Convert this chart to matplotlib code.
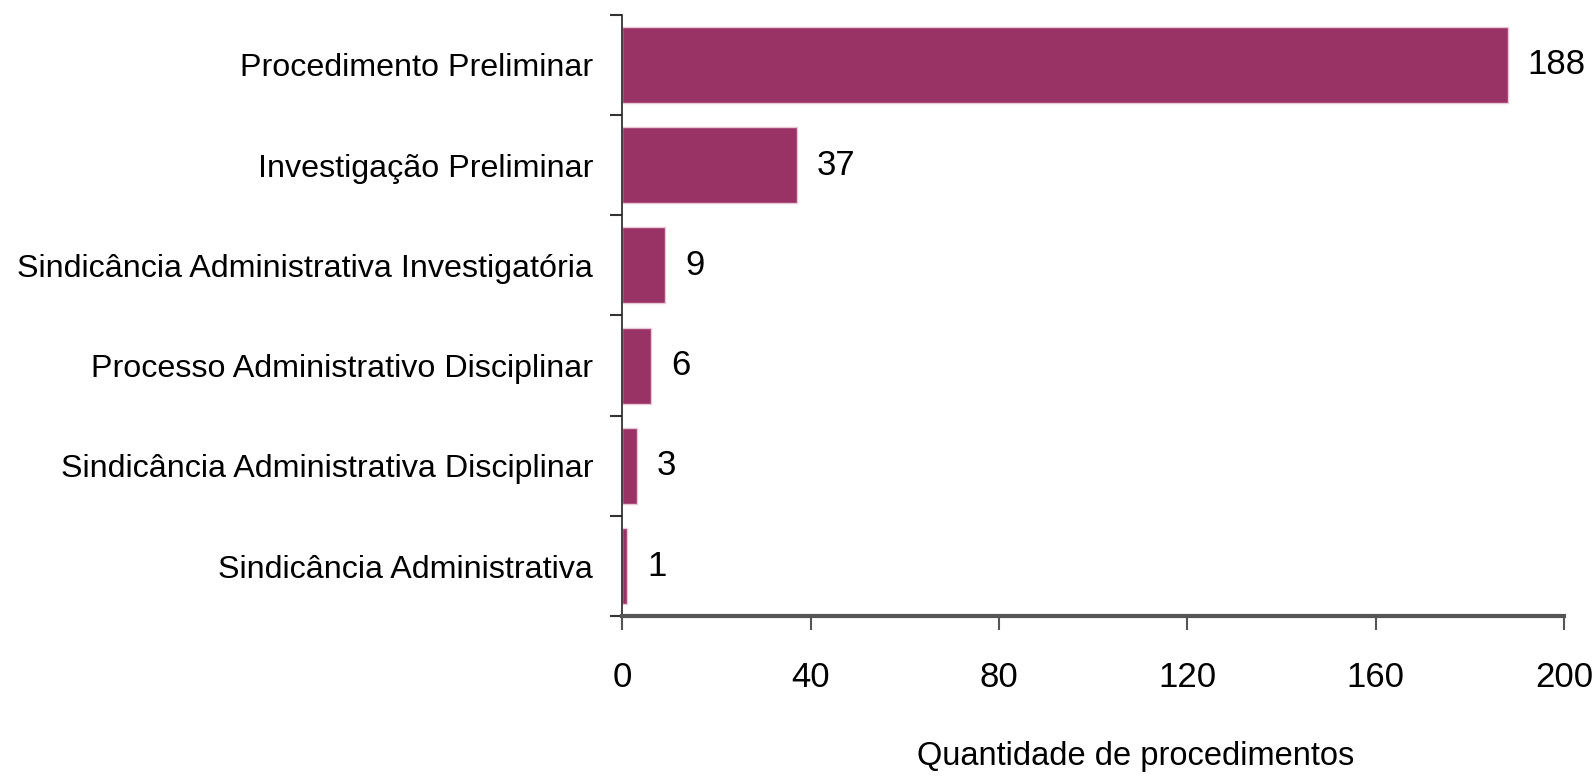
import numpy as np
import matplotlib
matplotlib.use('Agg')
from matplotlib import pyplot as plt

categories = ['Procedimento Preliminar',
              'Investigação Preliminar',
              'Sindicância Administrativa Investigatória',
              'Processo Administrativo Disciplinar',
              'Sindicância Administrativa Disciplinar',
              'Sindicância Administrativa']
counts = [188, 37, 9, 6, 3, 1]
x_ticks = [0, 40, 80, 120, 160, 200]

plt.rcParams['font.family'] = ['Liberation Sans', 'DejaVu Sans']

fig = plt.figure(figsize=(15.96, 7.78), dpi=100)
ax = fig.add_axes([0.390, 0.208, 0.590, 0.773])

y = np.arange(len(categories))
ax.barh(y, counts, height=0.76, color='#993366', edgecolor='#e8c8d6', linewidth=1)
ax.set_ylim(len(categories) - 0.5, -0.5)
ax.set_xlim(0, 200)

# value labels next to the bars
for yi, v in zip(y, counts):
    ax.text(v + 4.3, yi, str(v), va='center', ha='left', fontsize=25)

# category labels centered, ticks at the boundaries
ax.set_yticks(y)
ax.set_yticklabels(categories, fontsize=23.2)
ax.set_yticks(np.arange(len(categories) + 1) - 0.5, minor=True)
ax.tick_params(axis='y', which='major', length=0, pad=21)
ax.tick_params(axis='y', which='minor', length=9, width=1.5, color='#333333')

ax.set_xticks(x_ticks)
ax.tick_params(axis='x', length=10, width=1.5, color='#555555', labelsize=25, pad=22)
ax.set_xlabel('Quantidade de procedimentos', fontsize=23.5)
ax.xaxis.set_label_coords(0.545, -0.208)

for s in ['top', 'right']:
    ax.spines[s].set_visible(False)
ax.spines['left'].set_color('#222222')
ax.spines['left'].set_linewidth(1.2)
ax.spines['bottom'].set_color('#555555')
ax.spines['bottom'].set_linewidth(3)

fig.savefig('out.png', dpi=100)
